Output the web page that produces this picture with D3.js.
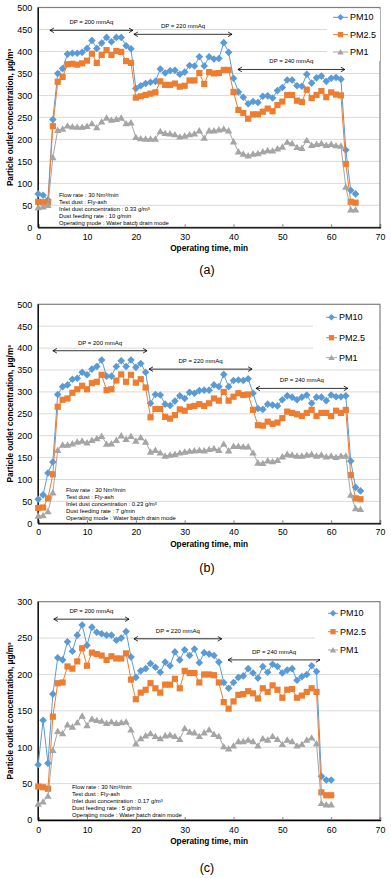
<!DOCTYPE html>
<html><head><meta charset="utf-8">
<script src="https://cdn.jsdelivr.net/npm/d3@7"></script>
<style>
body{margin:0;background:#fff}
svg{display:block}
text{font-family:"Liberation Sans",Arial,sans-serif;fill:#000}
</style>
</head><body>
<svg id="chart" width="391" height="878"></svg>
<script>
// ---------- data ----------
const seriesNames = ["PM10", "PM2.5", "PM1"];
const xTicks = [0, 10, 20, 30, 40, 50, 60, 70];
const yTicksAB = [0, 50, 100, 150, 200, 250, 300, 350, 400, 450, 500];
const yTicksC = [0, 50, 100, 150, 200, 250, 300];

const timeA = [0,1,2,3,4,5,6,7,8,9,10,11,12,13,14,15,16,17,18,19,20,21,22,23,24,25,26,27,28,29,30,31,32,33,34,35,36,37,38,39,40,41,42,43,44,45,46,47,48,49,50,51,52,53,54,55,56,57,58,59,60,61,62,63,64,65];
const pm10A = [76,73,62,245,350,361,394,396,396,398,407,425,407,419,432,422,432,432,413,406,316,322,327,330,332,360,351,356,357,348,353,368,367,388,367,388,383,384,420,398,339,308,296,281,286,284,298,299,294,311,318,335,335,322,321,348,328,340,344,332,339,341,337,176,84,76];
const pm25A = [58,57,57,230,331,342,371,372,370,373,379,395,374,392,403,392,401,399,378,374,295,298,301,304,307,332,324,324,327,320,322,334,334,351,326,353,350,351,358,358,308,267,260,247,257,257,263,270,264,278,286,301,301,288,285,313,294,301,310,296,307,302,300,144,58,56];
const pm1A = [45,47,50,159,221,224,231,229,228,228,230,236,227,240,249,244,246,249,236,238,205,202,201,201,201,218,214,213,211,206,208,211,213,220,203,220,220,222,224,220,195,172,167,163,167,168,172,175,174,179,183,194,191,182,180,198,187,189,191,187,189,186,185,92,40,40];

const timeB = [0,1,2,3,4,5,6,7,8,9,10,11,12,13,14,15,16,17,18,19,20,21,22,23,24,25,26,27,28,29,30,31,32,33,34,35,36,37,38,39,40,41,42,43,44,45,46,47,48,49,50,51,52,53,54,55,56,57,58,59,60,61,62,63,64,65,66];
const pm10B = [55,65,115,140,294,312,316,329,331,345,339,352,358,373,336,336,358,371,358,373,356,365,345,274,294,293,272,269,279,291,285,299,297,303,304,304,316,312,340,312,326,327,326,330,297,262,260,272,270,268,282,291,288,282,288,293,274,288,288,280,293,289,289,291,142,82,74];
const pm25B = [35,36,57,112,266,282,285,298,306,314,306,320,323,339,304,306,326,340,323,339,321,329,310,242,261,261,243,239,247,260,257,266,268,272,268,274,285,280,300,280,289,297,293,294,259,224,223,232,227,230,240,255,252,249,245,252,259,245,252,252,245,257,252,259,110,57,55];
const pm1B = [17,18,27,70,167,179,179,182,186,188,184,190,194,199,181,182,190,200,192,199,188,196,186,163,167,161,154,156,158,161,163,165,166,167,166,169,171,167,181,166,176,176,175,175,161,138,137,143,141,144,152,158,156,154,154,156,158,154,156,152,154,151,154,154,65,34,32];

const timeC = [0,1,2,3,4,5,6,7,8,9,10,11,12,13,14,15,16,17,18,19,20,21,22,23,24,25,26,27,28,29,30,31,32,33,34,35,36,37,38,39,40,41,42,43,44,45,46,47,48,49,50,51,52,53,54,55,56,57,58,59,60];
const pm10C = [76,137,78,173,223,220,245,232,254,268,240,265,258,256,254,254,247,250,259,224,196,205,208,215,210,203,217,212,231,220,234,226,235,216,230,228,226,217,189,181,189,196,198,208,202,195,211,203,214,211,202,206,208,192,197,200,212,204,60,55,55];
const pm25C = [46,45,43,142,188,189,211,208,218,236,212,230,228,226,220,225,222,222,229,193,166,175,179,188,181,175,186,186,194,181,205,202,202,189,200,200,199,189,162,153,163,172,173,177,174,167,181,176,185,179,168,179,180,168,171,176,181,176,38,34,34];
const pm1C = [22,25,33,96,122,119,131,128,134,143,130,139,137,136,133,135,133,134,135,124,105,112,116,119,115,112,116,117,115,111,126,121,120,115,120,124,118,115,101,98,102,108,108,110,108,102,112,110,115,111,104,110,108,102,104,110,113,105,23,21,21];

// DP annotations: [start min, end min, level, label]
const dpA = [[2.4,19.4,448,"DP = 200 mmAq"],[19.6,39.7,439,"DP = 220 mmAq"],[40.9,62.8,359,"DP = 240 mmAq"]];
const dpB = [[3.0,22.3,394,"DP = 200 mmAq"],[22.7,43.8,352,"DP = 220 mmAq"],[44.6,63.4,308,"DP = 240 mmAq"]];
const dpC = [[3.2,18.6,276,"DP = 200 mmAq"],[19.6,37.6,249,"DP = 220 mmAq"],[38.9,57.7,220,"DP = 240 mmAq"]];

const infoA = ["Flow rate : 30 Nm³/min","Test dust : Fly-ash","Inlet dust concentration : 0.33 g/m³","Dust feeding rate : 10 g/min","Operating mode : Water batch drain mode"];
const infoB = ["Flow rate : 30 Nm³/min","Test dust : Fly-ash","Inlet dust concentration : 0.23 g/m³","Dust feeding rate : 7 g/min","Operating mode : Water batch drain mode"];
const infoC = ["Flow rate : 30 Nm³/min","Test dust : Fly-ash","Inlet dust concentration : 0.17 g/m³","Dust feeding rate : 5 g/min","Operating mode : Water batch drain mode"];

const xTitle = "Operating time, min";
const yTitle = "Particle outlet concentration, μg/m³";

// ---------- layout / style ----------
const colors = ["#5B9BD5", "#ED7D31", "#A5A5A5"];
const panels = [
  {label:"(a)", time:timeA, vals:[pm10A,pm25A,pm1A], yTicks:yTicksAB, top:7.5, bottom:227.3,
   dp:dpA, info:infoA, infoX:59, infoY:197, tickOff:12.6, titleOff:23.8, labelOff:46.5,
   leg:{box:[327,9,53,52], ys:[17.3,34.6,52], x0:333, x1:348, tx:350}},
  {label:"(b)", time:timeB, vals:[pm10B,pm25B,pm1B], yTicks:yTicksAB, top:304.3, bottom:523.3,
   dp:dpB, info:infoB, infoX:66, infoY:492, tickOff:12, titleOff:23.8, labelOff:48.5,
   leg:{box:[313,306,66,60], ys:[317.3,337.7,357.7], x0:326, x1:337, tx:339}},
  {label:"(c)", time:timeC, vals:[pm10C,pm25C,pm1C], yTicks:yTicksC, top:601.7, bottom:820,
   dp:dpC, info:infoC, infoX:72, infoY:788.5, tickOff:13, titleOff:24, labelOff:52,
   leg:{box:[315,603,64,56], ys:[613.3,631.7,650], x0:328, x1:338, tx:340}}
];

const svg = d3.select("#chart");
const defs = svg.append("defs");
defs.append("marker").attr("id","ah").attr("viewBox","-6 -4 8 8")
  .attr("markerWidth",8).attr("markerHeight",8).attr("refX",0).attr("refY",0)
  .attr("orient","auto-start-reverse").attr("markerUnits","userSpaceOnUse")
  .append("path").attr("d","M-4,-2.3 L0,0 L-4,2.3").attr("fill","none").attr("stroke","#000").attr("stroke-width",0.8);

function marker(sel, k, s) {
  s = s || 1;
  if (k === 0) sel.attr("d", `M0,${-3.8*s} L${3.8*s},0 L0,${3.8*s} L${-3.8*s},0Z`);
  else if (k === 1) sel.attr("d", `M${-3.1*s},${-3.1*s}h${6.2*s}v${6.2*s}h${-6.2*s}Z`);
  else sel.attr("d", `M0,${-3.6*s} L${3.7*s},${2.8*s} L${-3.7*s},${2.8*s}Z`);
}

panels.forEach(p => {
  const g = svg.append("g");
  const yMax = p.yTicks[p.yTicks.length-1];
  const x = d3.scaleLinear().domain([0,70]).range([38.2,380]);
  const y = d3.scaleLinear().domain([0,yMax]).range([p.bottom,p.top]);

  // gridlines
  g.append("g").selectAll("line").data(p.yTicks.filter(v=>v>0 && v<yMax)).join("line")
    .attr("x1",x(0)).attr("x2",x(70)).attr("y1",d=>y(d)).attr("y2",d=>y(d))
    .attr("stroke","#d9d9d9").attr("stroke-width",1);

  // plot border
  g.append("rect").attr("x",x(0)).attr("y",y(yMax)).attr("width",x(70)-x(0)).attr("height",y(0)-y(yMax))
    .attr("fill","none").attr("stroke","#7f7f7f").attr("stroke-width",1.2);

  // y axis
  const ya = g.append("g").attr("transform",`translate(${x(0)},0)`)
    .call(d3.axisLeft(y).tickValues(p.yTicks).tickSize(0).tickPadding(6));
  ya.select(".domain").remove();
  ya.selectAll("text").attr("font-size",9).attr("fill","#000").style("font-family","'Liberation Sans',Arial,sans-serif");

  // x axis
  const xa = g.append("g").attr("transform",`translate(0,${y(0)})`)
    .call(d3.axisBottom(x).tickValues(xTicks).tickSize(-3).tickPadding(p.tickOff-6.2));
  xa.select(".domain").attr("stroke","#000").attr("stroke-width",1.3);
  xa.selectAll(".tick line").attr("stroke","#7f7f7f");
  xa.selectAll("text").attr("font-size",8.8).attr("fill","#000").style("font-family","'Liberation Sans',Arial,sans-serif");
  g.append("line").attr("x1",x(0)).attr("x2",x(0)).attr("y1",y(yMax)).attr("y2",y(0))
    .attr("stroke","#000").attr("stroke-width",1.3);

  // titles
  g.append("text").attr("x",(x(0)+x(70))/2).attr("y",y(0)+p.titleOff).attr("text-anchor","middle")
    .attr("font-size",8.3).attr("font-weight","bold").text(xTitle);
  g.append("text").attr("transform",`translate(13,${(y(0)+y(yMax))/2}) rotate(-90)`).attr("text-anchor","middle")
    .attr("font-size",8.2).attr("font-weight","bold").text(yTitle);
  g.append("text").attr("x",207).attr("y",y(0)+p.labelOff).attr("text-anchor","middle")
    .attr("font-size",12.5).text(p.label);

  // info text
  g.append("g").selectAll("text").data(p.info).join("text")
    .attr("x",p.infoX).attr("y",(d,i)=>p.infoY+i*7.1).attr("font-size",5.9).attr("fill","#222").text(d=>d);

  // DP arrows
  const dg = g.append("g");
  p.dp.forEach(d => {
    dg.append("line").attr("x1",x(d[0])).attr("x2",x(d[1])).attr("y1",y(d[2])).attr("y2",y(d[2]))
      .attr("stroke","#000").attr("stroke-width",0.8)
      .attr("marker-start","url(#ah)").attr("marker-end","url(#ah)");
    dg.append("text").attr("x",(x(d[0])+x(d[1]))/2).attr("y",y(d[2])-6).attr("text-anchor","middle")
      .attr("font-size",6).text(d[3]);
  });

  // series
  p.vals.forEach((vals,k) => {
    const pts = p.time.map((t,i)=>[t,vals[i]]);
    g.append("path").datum(pts)
      .attr("d", d3.line().x(d=>x(d[0])).y(d=>y(d[1])))
      .attr("fill","none").attr("stroke",colors[k]).attr("stroke-width",1);
    g.append("g").selectAll("path").data(pts).join("path")
      .call(marker,k).attr("transform",d=>`translate(${x(d[0])},${y(d[1])})`)
      .attr("fill",colors[k]);
  });

  // legend
  const L = p.leg;
  g.append("rect").attr("x",L.box[0]).attr("y",L.box[1]).attr("width",L.box[2]).attr("height",L.box[3]).attr("fill","#fff");
  seriesNames.forEach((n,k) => {
    const yy = L.ys[k];
    g.append("line").attr("x1",L.x0).attr("x2",L.x1).attr("y1",yy).attr("y2",yy).attr("stroke",colors[k]).attr("stroke-width",1);
    g.append("path").call(marker,k,0.85).attr("transform",`translate(${(L.x0+L.x1)/2},${yy})`).attr("fill",colors[k]);
    g.append("text").attr("x",L.tx).attr("y",yy).attr("dy","0.35em").attr("font-size",9).attr("fill","#222").text(n);
  });
});
</script>
</body></html>
